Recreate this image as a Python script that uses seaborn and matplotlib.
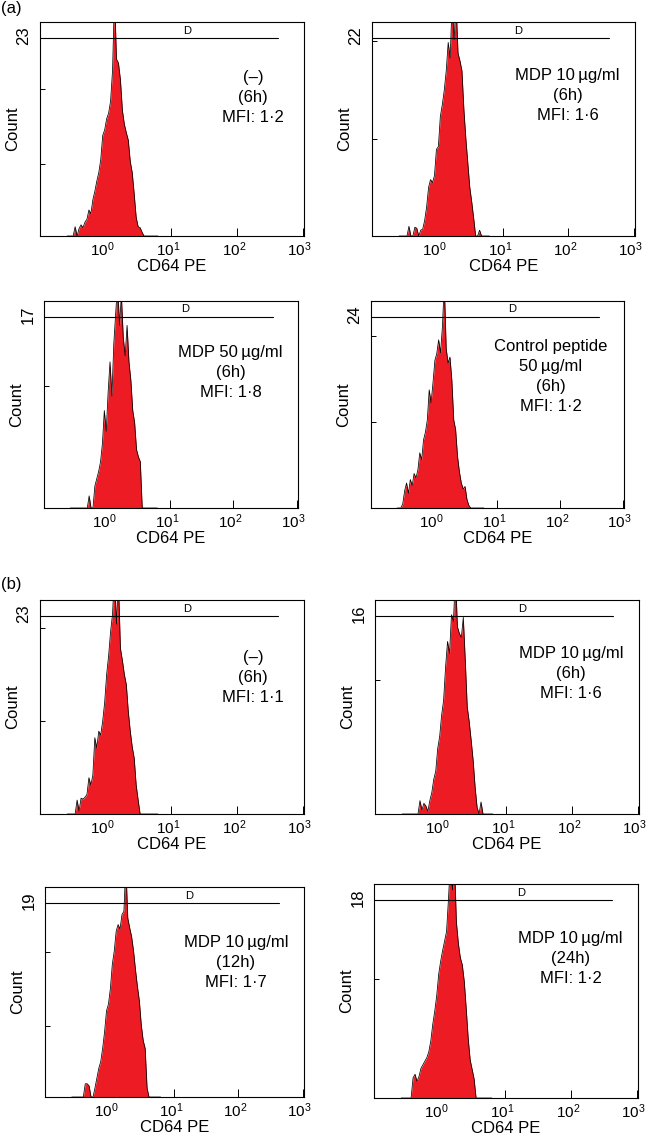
import numpy as np
import pandas as pd
import matplotlib
matplotlib.use("Agg")
import matplotlib.pyplot as plt
import matplotlib.transforms as mtransforms
import seaborn as sns
from matplotlib.ticker import FixedLocator, LogLocator, NullFormatter

# ---------------- data ----------------
# flow-cytometry channels: log10 edges start at -0.60, width 0.03 decade
bin_log_start = -0.60
bin_log_width = 0.03

panel_ids = ["a1", "a2", "a3", "a4", "b1", "b2", "b3", "b4"]
condition_labels = [
    "(\u2013)\n(6h)\nMFI: 1\u00b72",
    "MDP 10\u2009\u00b5g/ml\n(6h)\nMFI: 1\u00b76",
    "MDP 50\u2009\u00b5g/ml\n(6h)\nMFI: 1\u00b78",
    "Control peptide\n50\u2009\u00b5g/ml\n(6h)\nMFI: 1\u00b72",
    "(\u2013)\n(6h)\nMFI: 1\u00b71",
    "MDP 10\u2009\u00b5g/ml\n(6h)\nMFI: 1\u00b76",
    "MDP 10\u2009\u00b5g/ml\n(12h)\nMFI: 1\u00b77",
    "MDP 10\u2009\u00b5g/ml\n(24h)\nMFI: 1\u00b72",
]
y_max = [23, 22, 17, 24, 23, 16, 19, 18]
y_tick_values = [[7.7, 15.8], [10, 20], [10], [10, 20], [10, 20], [10], [6.4, 13.1], [10]]
x_tick_values = [1, 10, 100, 1000]
gate_D = [0.1, 427]
gate_label = "D"
x_label = "CD64 PE"
y_label = "Count"
group_labels = ["(a)", "(b)"]

counts_a1 = [0, 0, 0, 0, 1.0, 0, 0.8, 1.2, 0.9, 1.5,
             1.8, 2.8, 2.4, 3.9, 4.8, 5.9, 6.8, 8.2, 10.8, 11.4,
             12.6, 13.2, 14.5, 17.8, 26, 19.0, 18.6, 16.8, 13.5, 12.0,
             11.1, 10.3, 8.0, 6.8, 4.5, 2.0, 1.0, 0.9, 0.4, 0,
             0, 0, 0, 0, 0, 0, 0]
counts_a2 = [0, 0, 0, 0, 0, 1.0, 0, 0, 0.9, 0.8,
             0, 0.6, 0.7, 1.6, 3.0, 5.0, 5.8, 5.5, 6.2, 8.9,
             9.2, 12.3, 13.5, 15.0, 17.0, 19.9, 18.3, 24, 20.2, 24,
             18.8, 18.0, 17.0, 13.0, 10.0, 7.5, 5.0, 3.5, 1.8, 0,
             0, 0.6, 0, 0, 0, 0, 0]
counts_a3 = [0, 0, 0, 0, 0, 0, 0, 0, 0, 0,
             1.0, 0, 0, 1.8, 2.4, 3.0, 3.8, 5.3, 8.0, 6.3,
             9.5, 12.0, 9.2, 13.5, 16.0, 18.5, 15.0, 17.5, 14.0, 12.5,
             15.0, 12.0, 10.5, 8.0, 7.0, 4.8, 4.2, 3.8, 0, 0,
             0, 0, 0, 0, 0, 0, 0]
counts_a4 = [0, 0, 0, 0.5, 2.0, 2.9, 1.7, 3.3, 2.6, 4.0,
             3.5, 4.4, 6.4, 5.6, 7.9, 8.8, 10.2, 13.7, 12.2, 14.5,
             17.1, 17.9, 19.5, 18.0, 21.0, 26, 18.5, 16.8, 17.5, 14.8,
             10.2, 9.1, 6.0, 4.2, 2.9, 2.2, 2.5, 1.0, 0.3, 0,
             0, 0, 0, 0, 0, 0, 0]
counts_b1 = [0, 0, 0, 0, 0, 1.5, 0.3, 1.7, 1.6, 1.8,
             2.1, 3.9, 3.1, 4.2, 8.2, 7.1, 8.9, 8.5, 10.0, 12.0,
             15.0, 17.0, 19.6, 21.5, 26, 20.4, 25, 17.8, 16.5, 15.0,
             13.9, 11.0, 8.9, 7.2, 6.0, 3.1, 1.5, 0, 0, 0,
             0, 0, 0, 0, 0, 0, 0]
counts_b2 = [0, 0, 0, 0, 0, 0, 0, 0, 0, 1.0,
             0.3, 0.8, 0.6, 0.2, 1.0, 1.6, 2.6, 3.2, 4.9, 5.8,
             7.4, 8.5, 11.0, 12.9, 12.0, 14.9, 14.4, 18, 14.0, 13.5,
             13.2, 14.7, 11.5, 8.0, 6.9, 5.5, 4.0, 2.0, 0.5, 0,
             0.9, 0, 0, 0, 0, 0, 0]
counts_b3 = [0, 0, 0, 0, 0, 0, 0, 1.2, 1.2, 1.0,
             0, 0, 0.8, 1.7, 2.6, 3.2, 4.4, 5.9, 7.8, 8.4,
             9.8, 12.0, 13.2, 15.0, 15.6, 15.2, 16.5, 16.8, 21, 16.2,
             15.3, 14.5, 13.2, 11.5, 10.0, 8.7, 6.5, 5.1, 4.4, 0.8,
             0, 0, 0, 0, 0, 0, 0]
counts_b4 = [0, 0, 0, 0, 0, 0, 1.7, 2.0, 1.4, 1.8,
             2.5, 2.8, 3.1, 3.4, 3.9, 4.8, 6.2, 7.3, 8.6, 10.4,
             11.5, 12.4, 13.2, 14.0, 16.8, 20, 17.5, 20, 14.8, 13.0,
             11.8, 11.2, 9.8, 7.5, 5.0, 3.2, 2.4, 1.6, 0, 0,
             0, 0, 0, 0, 0, 0, 0]
all_counts = [counts_a1, counts_a2, counts_a3, counts_a4,
              counts_b1, counts_b2, counts_b3, counts_b4]

# ---------------- tidy table ----------------
n_bins = len(counts_a1)
channel_centers = 10 ** (bin_log_start + bin_log_width * (np.arange(n_bins) + 0.5))
df = pd.concat([
    pd.DataFrame({"panel": pid, "fluor": channel_centers, "count": cnt})
    for pid, cnt in zip(panel_ids, all_counts)
], ignore_index=True)

# ---------------- style ----------------
sns.set_theme(style="white")
plt.rcParams.update({
    "font.family": ["Liberation Sans", "DejaVu Sans"],
    "mathtext.fontset": "custom",
    "mathtext.rm": "Liberation Sans",
    "mathtext.it": "Liberation Sans:italic",
    "mathtext.bf": "Liberation Sans:bold",
    "axes.edgecolor": "black",
    "axes.linewidth": 0.8,
    "xtick.direction": "in",
    "ytick.direction": "in",
    "xtick.color": "black",
    "ytick.color": "black",
    "text.color": "black",
    "axes.labelcolor": "black",
})

RED = "#ED1C24"
W, H = 648, 1142
axes_px = [(40, 22, 304, 236), (372, 22, 635, 236),
           (44, 301, 298, 508), (371, 301, 624, 508),
           (40, 600, 304, 814), (375, 600, 639, 814),
           (45, 887, 304, 1097), (374, 884, 638, 1098)]
text_pos = [(0.807, 0.776), (0.743, 0.785), (0.735, 0.787), (0.711, 0.815),
            (0.807, 0.766), (0.742, 0.785), (0.737, 0.771), (0.745, 0.780)]

fig = plt.figure(figsize=(W / 100, H / 100), dpi=100)
label_shift = mtransforms.ScaledTranslation(-3 / 100, 0, fig.dpi_scale_trans)

for i, pid in enumerate(panel_ids):
    l, t, r, b = axes_px[i]
    wpx, hpx = r - l, b - t
    ax = fig.add_axes([l / W, 1 - b / H, wpx / W, hpx / H])
    ax.set_xscale("log")
    sub = df[df["panel"] == pid]
    ax.fill_between(sub["fluor"], sub["count"], color=RED, lw=0, zorder=1)
    sns.lineplot(data=sub, x="fluor", y="count", ax=ax, color="black",
                 lw=0.55, estimator=None, sort=False, zorder=2)
    ax.set_xlim(0.1, 1050)
    ax.set_ylim(0, y_max[i])

    ax.xaxis.set_major_locator(FixedLocator(x_tick_values))
    ax.xaxis.set_minor_locator(LogLocator(base=10, subs=np.arange(2, 10), numticks=20))
    ax.xaxis.set_minor_formatter(NullFormatter())
    ax.tick_params(axis="x", which="major", length=5.5, width=0.7, labelsize=11, pad=3)
    ax.tick_params(axis="x", which="minor", length=3.0, width=0.6)
    ax.set_yticks(y_tick_values[i])
    ax.set_yticklabels([])
    ax.tick_params(axis="y", which="major", length=3.5, width=0.7, left=True)
    ax.tick_params(bottom=True)

    ax.set_xlabel(x_label, fontsize=12)
    ax.xaxis.set_label_coords(0.5, -23.0 / hpx)
    ax.set_ylabel(y_label, fontsize=12)
    ax.yaxis.set_label_coords(-19.5 / wpx, 0.5)

    ax.annotate(str(y_max[i]), xy=(0, 1), xycoords="axes fraction",
                xytext=(-16, -14), textcoords="offset pixels",
                rotation=90, ha="center", va="center", fontsize=12)

    # marker gate "D"
    ax.plot(gate_D, [0.924, 0.924], transform=ax.get_xaxis_transform(),
            color="black", lw=0.8, zorder=3)
    ax.text(17.4, 0.935, gate_label, transform=ax.get_xaxis_transform(),
            ha="center", va="bottom", fontsize=8)

    cx, cy = text_pos[i]
    ax.text(cx, cy, condition_labels[i], transform=ax.transAxes,
            ha="center", va="top", multialignment="center",
            fontsize=12, linespacing=1.42)

    for s in ax.spines.values():
        s.set_visible(True)
        s.set_color("black")
        s.set_linewidth(0.8)

    for lab in ax.get_xticklabels():
        lab.set_transform(lab.get_transform() + label_shift)

fig.text(1 / W, 1 - 9 / H, group_labels[0], ha="left", va="center", fontsize=12)
fig.text(1 / W, 1 - 584 / H, group_labels[1], ha="left", va="center", fontsize=12)

fig.savefig("out.png", dpi=100)
